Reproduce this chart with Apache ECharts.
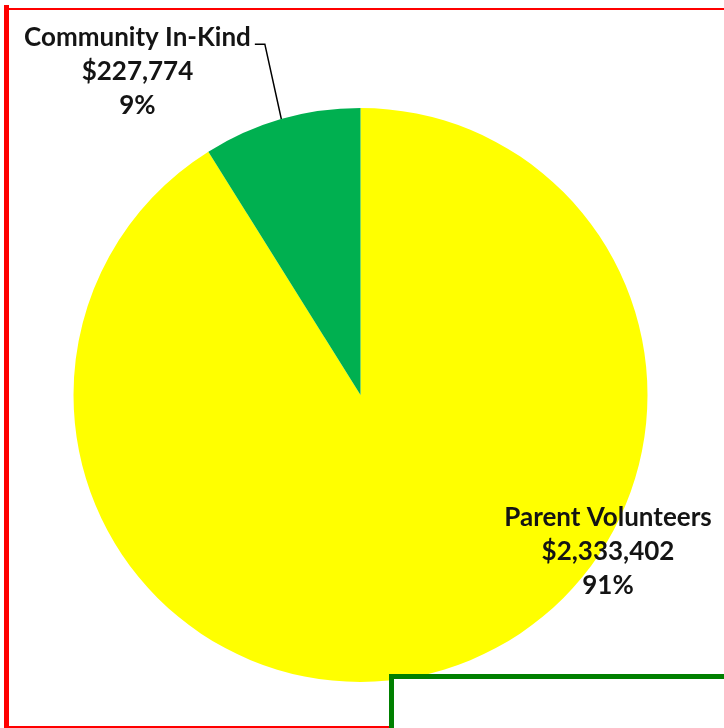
<!DOCTYPE html>
<html>
<head>
<meta charset="utf-8">
<script src="https://cdn.jsdelivr.net/npm/echarts@6/dist/echarts.min.js"></script>
<style>
html,body{margin:0;padding:0;background:#fff;overflow:hidden;}
#chart{position:absolute;left:0;top:0;width:724px;height:728px;}
.b{position:absolute;}
</style>
</head>
<body>
<div id="chart"></div>
<div class="b" style="left:4px;top:5px;width:5px;height:723px;background:#ff0000;"></div>
<div class="b" style="left:9px;top:8px;width:715px;height:2px;background:#ff0000;"></div>
<div class="b" style="left:4px;top:726px;width:386px;height:2px;background:#ff0000;"></div>
<div class="b" style="left:389px;top:674px;width:340px;height:60px;background:#fff;border-left:5px solid #008000;border-top:5px solid #008000;box-sizing:border-box;"></div>
<script>
var categories = ['Parent Volunteers', 'Community In-Kind'];
var values = [2333402, 227774];
var colors = ['#FFFF00', '#00B050'];

var chart = echarts.init(document.getElementById('chart'), null, {renderer: 'canvas'});
var fontFamily = 'Lato, "Open Sans", sans-serif';

function fmtMoney(v) {
  return '$' + v.toString().replace(/\B(?=(\d{3})+(?!\d))/g, ',');
}

chart.setOption({
  animation: false,
  series: [{
    type: 'pie',
    center: [360.5, 395],
    radius: 287,
    startAngle: 90,
    clockwise: true,
    avoidLabelOverlap: false,
    data: categories.map(function (c, i) {
      return {name: c, value: values[i], itemStyle: {color: colors[i]},
        labelLine: {show: i === 1}};
    }),
    label: {
      show: true,
      position: 'outside',
      formatter: function (p) {
        return '{a|' + p.name + '}\n{a|' + fmtMoney(p.value) + '}\n{a|' + Math.round(p.percent) + '%}';
      },
      rich: {
        a: {fontFamily: fontFamily, fontSize: 26, fontWeight: 'bold', color: '#141414', lineHeight: 34, align: 'center'}
      },
      align: 'center'
    },
    labelLine: {
      show: true,
      length: 78,
      length2: 10,
      lineStyle: {color: '#000', width: 1.5}
    },
    labelLayout: function (params) {
      if (params.dataIndex === 1) {
        var p = params.labelLinePoints;
        var pts = [p[0], [p[1][0] + 5, p[1][1]], [p[2][0] + 5, p[2][1]]];
        return {x: pts[2][0] - 4 - params.labelRect.width / 2, y: 21,
          align: 'center', verticalAlign: 'top', labelLinePoints: pts};
      }
      return {x: 608, y: 501, align: 'center', verticalAlign: 'top'};
    }
  }]
});
</script>
</body>
</html>
